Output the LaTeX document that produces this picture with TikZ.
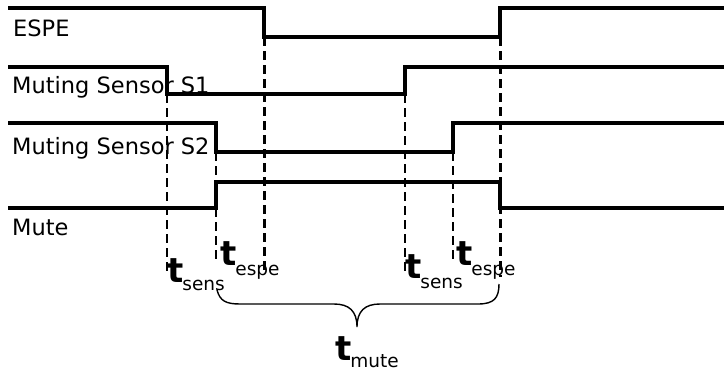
\documentclass[tikz,border=0pt]{standalone}
\usepackage{fontspec}
\setmainfont{DejaVu Sans}
\begin{document}
\begin{tikzpicture}[x=1pt,y=-1pt,
  wave/.style={line width=3.2pt,line cap=butt,line join=miter},
  thindash/.style={line width=1.6pt,dash pattern=on 9pt off 5pt},
  thickdash/.style={line width=3pt,dash pattern=on 9pt off 5pt},
  lbl/.style={anchor=base west,inner sep=0pt,font=\fontsize{22.5}{22.5}\selectfont},
  tlbl/.style={anchor=base west,inner sep=0pt},
  brace/.style={line width=1.4pt}]
\useasboundingbox (0,0) rectangle (724,372);
\newcommand{\tsym}[2]{{\fontsize{34}{34}\selectfont\bfseries t}\kern-1pt\raisebox{-#2pt}{\fontsize{18.5}{18.5}\selectfont #1}}
% waveforms
\draw[wave] (8,8) -- (264,8) -- (264,37) -- (500,37) -- (500,8) -- (724,8);
\draw[wave] (8,67) -- (167,67) -- (167,94) -- (405,94) -- (405,67) -- (724,67);
\draw[wave] (8,123) -- (216,123) -- (216,152) -- (453,152) -- (453,123) -- (724,123);
\draw[wave] (8,208) -- (216,208) -- (216,182) -- (500,182) -- (500,208) -- (724,208);
% labels
\node[lbl] (espe) at (13,37) {ESPE};
\node[lbl] (s1) at (12,93) {Muting Sensor S1};
\node[lbl] (s2) at (12,154) {Muting Sensor S2};
\node[lbl] (mute) at (12,235) {Mute};
% dashed guides
\coordinate (a1) at (167,94);  \coordinate (a2) at (167,274);
\coordinate (b1) at (216,152); \coordinate (b2) at (216,261);
\coordinate (c1) at (264,37);  \coordinate (c2) at (264,273);
\coordinate (d1) at (405,94);  \coordinate (d2) at (405,272);
\coordinate (e1) at (453,152); \coordinate (e2) at (453,260);
\coordinate (f1) at (500,37);  \coordinate (f2) at (500,277);
\draw[thindash] (a1) -- (a2);
\draw[thindash] (b1) -- (b2);
\draw[thickdash] (c1) -- (c2);
\draw[thindash] (d1) -- (d2);
\draw[thindash] (e1) -- (e2);
\draw[thickdash] (f1) -- (f2);
% time labels
\node[tlbl] (ts1) at (167,282) {\tsym{sens}{8}};
\node[tlbl] (te1) at (220,265) {\tsym{espe}{10}};
\node[tlbl] (ts2) at (405,278) {\tsym{sens}{10}};
\node[tlbl] (te2) at (456,265) {\tsym{espe}{10}};
\node[tlbl] (tm) at (335,360) {\tsym{mute}{7}};
% brace
\coordinate (bl) at (217,290);
\coordinate (bm) at (357,327);
\coordinate (br) at (499,284);
\draw[brace] (bl) .. controls (220,301) and (226,304) .. (240,304) -- (334,304)
  .. controls (349,304) and (357,311) .. (bm)
  .. controls (357,311) and (365,304) .. (380,304) -- (478,304)
  .. controls (494,304) and (499,298) .. (br);
\end{tikzpicture}
\end{document}
